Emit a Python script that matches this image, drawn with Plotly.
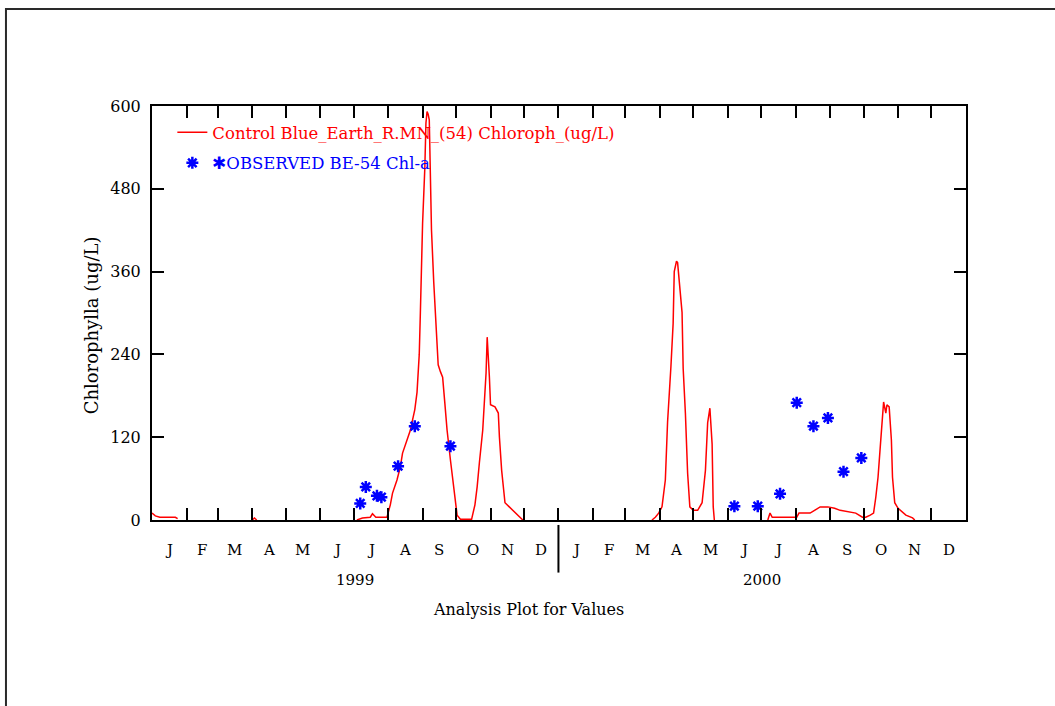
import pandas as pd
import plotly.graph_objects as go

# Simulated chlorophyll (model run day since 1999-01-01, ug/L);
# None marks days with no model output, which leaves a gap in the line
sim_day = [0, 3, 7, 21, 23, 50,
           90, 92, 94, 150,
           184, 189, 196, 198, 201, 211, 214, 216, 220, 223, 225, 229, 232, 234,
           236, 238, 240, 241, 242, 243, 245, 246, 247, 248, 249, 250, 251, 253,
           255, 257, 259, 261, 263, 265, 268, 270, 272, 274, 277, 287, 290, 292,
           294, 297, 300, 301, 303, 304, 308, 311, 312, 314, 317, 324, 330, 333,
           400,
           449, 452, 455, 458, 461, 463, 466, 468, 469, 471, 472, 474, 476, 477,
           479, 481, 483, 486, 490, 494, 497, 499, 501, 503, 504, 505, 530,
           553, 555, 557, 579, 581, 591, 595, 600, 607, 613, 618, 627, 632, 638,
           641, 645, 648, 650, 652, 654, 656, 657, 659, 660, 662, 664, 665, 667,
           670, 674, 677, 683, 685]
sim_chl = [10, 6, 4, 4, 2, None,
           0, 3, 0, None,
           0, 3, 4, 9, 4, 4, 22, 39, 58, 77, 97, 116, 130, 145,
           160, 185, 240, 300, 375, 430, 510, 575, 592, 588, 580, 480, 420, 345,
           285, 225, 215, 207, 169, 130, 87, 62, 29, 7, 1, 1, 22, 48,
           83, 130, 213, 265, 207, 167, 164, 155, 120, 72, 25, 14, 4, 0,
           None,
           0, 4, 10, 19, 58, 142, 222, 285, 360, 375, 373, 333, 301, 220,
           155, 68, 19, 14, 14, 25, 72, 141, 162, 110, 19, 0, None,
           0, 10, 4, 4, 10, 10, 14, 19, 19, 17, 14, 12, 10, 4,
           4, 7, 10, 33, 62, 106, 155, 171, 155, 167, 164, 116, 62, 25,
           17, 12, 7, 3, 0]

# Observed samples at station BE-54
obs_dates = ["1999-07-07", "1999-07-12", "1999-07-22", "1999-07-26", "1999-08-10",
             "1999-08-25", "1999-09-26",
             "2000-06-07", "2000-06-28", "2000-07-18", "2000-08-02", "2000-08-17",
             "2000-08-30", "2000-09-13", "2000-09-29"]
obs_chl = [24, 48, 35, 33, 78, 136, 107,
           20, 20, 38, 170, 136, 148, 70, 90]

month_letters = ["J", "F", "M", "A", "M", "J", "J", "A", "S", "O", "N", "D"]
years = ["1999", "2000"]
y_ticks = [0, 120, 240, 360, 480, 600]

start = pd.Timestamp("1999-01-01")
sim_dates = [start + pd.Timedelta(days=d) for d in sim_day]

FONT = "DejaVu Serif"

fig = go.Figure()
fig.add_trace(go.Scatter(
    x=sim_dates, y=sim_chl, mode="lines", connectgaps=False,
    line=dict(color="#ff0000", width=1.5),
    name='<span style="color:#ff0000">Control Blue_Earth_R.MN_(54) Chloroph_(ug/L)</span>',
    legendgroup="sim",
))
fig.add_trace(go.Scatter(
    x=pd.to_datetime(obs_dates), y=obs_chl, mode="markers",
    marker=dict(symbol="asterisk-open", size=10, color="#0000ff",
                line=dict(color="#0000ff", width=2.5)),
    name='<span style="color:#0000ff">\u2731OBSERVED BE-54 Chl-a</span>',
    legendgroup="obs",
))

month_starts = pd.date_range("1999-01-01", "2001-01-01", freq="MS")

annotations = []
for i in range(len(month_starts) - 1):
    a, b = month_starts[i], month_starts[i + 1]
    annotations.append(dict(
        x=a + (b - a) / 2, y=-0.073, xref="x", yref="paper",
        text=month_letters[i % 12], showarrow=False,
        font=dict(family=FONT, size=15, color="#000000"),
        xanchor="center", yanchor="middle"))
for yr in years:
    a = pd.Timestamp(f"{yr}-01-01")
    b = pd.Timestamp(f"{int(yr) + 1}-01-01")
    annotations.append(dict(
        x=a + (b - a) / 2, y=-0.145, xref="x", yref="paper",
        text=yr, showarrow=False,
        font=dict(family=FONT, size=15, color="#000000"),
        xanchor="center", yanchor="middle"))
annotations.append(dict(
    x=0.462, y=-0.215, xref="paper", yref="paper",
    text="Analysis Plot for Values", showarrow=False,
    font=dict(family=FONT, size=16, color="#000000"),
    xanchor="center", yanchor="middle"))
annotations.append(dict(
    x=-0.075, y=0.47, xref="paper", yref="paper",
    text="Chlorophylla (ug/L)", showarrow=False, textangle=-90,
    font=dict(family=FONT, size=18, color="#000000"),
    xanchor="center", yanchor="middle"))

shapes = [
    # outer frame of the page
    dict(type="rect", xref="paper", yref="paper",
         x0=-0.1794, y0=-0.48, x1=1.13, y1=1.234,
         line=dict(color="#2a2a2a", width=2), fillcolor="rgba(0,0,0,0)",
         layer="below"),
    # year separator below the axis
    dict(type="line", xref="x", yref="paper",
         x0=pd.Timestamp("2000-01-01"), x1=pd.Timestamp("2000-01-01"),
         y0=-0.012, y1=-0.127,
         line=dict(color="#000000", width=2)),
]

fig.update_layout(
    width=1055, height=706,
    margin=dict(l=152, r=89, t=106, b=186),
    paper_bgcolor="#ffffff", plot_bgcolor="#ffffff",
    font=dict(family=FONT, size=15, color="#000000"),
    showlegend=True,
    legend=dict(x=0.025, y=0.978, xanchor="left", yanchor="top",
                bgcolor="rgba(0,0,0,0)", borderwidth=0,
                font=dict(family=FONT, size=16.5),
                traceorder="grouped", tracegroupgap=6),
    annotations=annotations,
    shapes=shapes,
    xaxis=dict(
        type="date", range=["1999-01-01", "2001-01-01"],
        tickvals=list(month_starts), ticktext=[""] * len(month_starts),
        ticks="inside", ticklen=12, tickwidth=2, tickcolor="#000000",
        showline=True, linewidth=2, linecolor="#000000", mirror="ticks",
        showgrid=False, zeroline=False,
    ),
    yaxis=dict(
        range=[0, 600], tickvals=y_ticks,
        ticks="inside", ticklen=12, tickwidth=2, tickcolor="#000000",
        showline=True, linewidth=2, linecolor="#000000", mirror="ticks",
        showgrid=False, zeroline=False,
        tickfont=dict(family=FONT, size=16, color="#000000"),
        ticklabelstandoff=6,
    ),
)

fig.write_html("out.html")
